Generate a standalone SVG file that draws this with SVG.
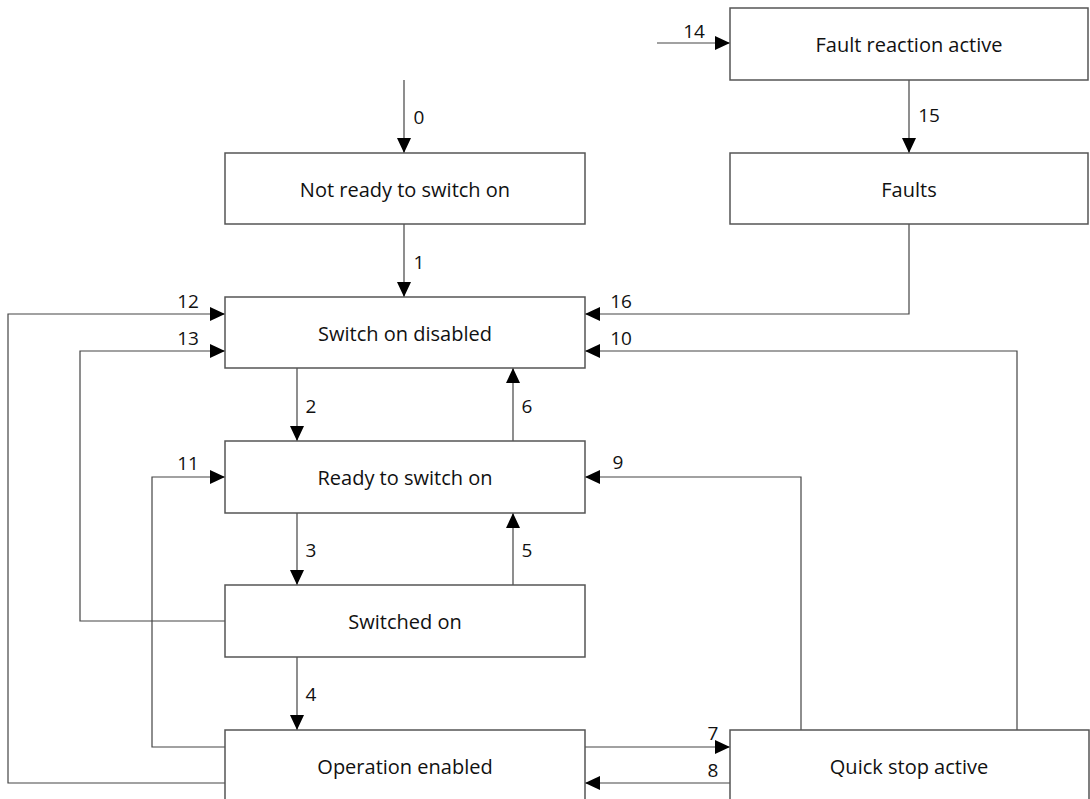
<svg xmlns="http://www.w3.org/2000/svg" width="1090" height="799" viewBox="0 0 1090 799">
<style>
.box{fill:#fff;stroke:#555;stroke-width:1.5}
.t{font-family:"Open Sans","Liberation Sans",sans-serif;font-size:20px;fill:#111;text-anchor:middle;dominant-baseline:central}
.n{font-family:"Open Sans","Liberation Sans",sans-serif;font-size:19px;fill:#111;text-anchor:middle}
.c{fill:none;stroke:#444;stroke-width:1.2}
</style>
<defs>
<marker id="ah" markerUnits="userSpaceOnUse" markerWidth="16" markerHeight="14" refX="15" refY="7" orient="auto" viewBox="0 0 16 14">
<path d="M0,0 L15,7 L0,14 z" fill="#000"/>
</marker>
</defs>
<rect width="1090" height="799" fill="#fff"/>
<g id="connectors">
<path class="c" d="M404,80 V153" marker-end="url(#ah)"/>
<path class="c" d="M404,224 V297" marker-end="url(#ah)"/>
<path class="c" d="M297,368 V441" marker-end="url(#ah)"/>
<path class="c" d="M297,513 V585" marker-end="url(#ah)"/>
<path class="c" d="M297,657 V730" marker-end="url(#ah)"/>
<path class="c" d="M513,585 V513" marker-end="url(#ah)"/>
<path class="c" d="M513,441 V368" marker-end="url(#ah)"/>
<path class="c" d="M585,747 H730" marker-end="url(#ah)"/>
<path class="c" d="M730,783 H585" marker-end="url(#ah)"/>
<path class="c" d="M801,730 V477 H585" marker-end="url(#ah)"/>
<path class="c" d="M1017,730 V351 H585" marker-end="url(#ah)"/>
<path class="c" d="M909,224 V314 H585" marker-end="url(#ah)"/>
<path class="c" d="M225,783 H8 V314 H225" marker-end="url(#ah)"/>
<path class="c" d="M225,621 H80 V351 H225" marker-end="url(#ah)"/>
<path class="c" d="M225,747 H152 V477 H225" marker-end="url(#ah)"/>
<path class="c" d="M657,43 H730" marker-end="url(#ah)"/>
<path class="c" d="M909,80 V153" marker-end="url(#ah)"/>
<text class="n" x="419" y="124">0</text>
<text class="n" x="419" y="269">1</text>
<text class="n" x="311" y="413">2</text>
<text class="n" x="311" y="557">3</text>
<text class="n" x="311" y="701">4</text>
<text class="n" x="527" y="557">5</text>
<text class="n" x="527" y="413">6</text>
<text class="n" x="713" y="740">7</text>
<text class="n" x="713" y="777">8</text>
<text class="n" x="618" y="469">9</text>
<text class="n" x="621" y="345">10</text>
<text class="n" x="188" y="470">11</text>
<text class="n" x="188" y="308">12</text>
<text class="n" x="188" y="345">13</text>
<text class="n" x="694" y="38">14</text>
<text class="n" x="929" y="122">15</text>
<text class="n" x="621" y="308">16</text>
</g>
<g id="fault-reaction-active"><rect class="box" x="730" y="8" width="358" height="72"/><text class="t" x="909" y="44">Fault reaction active</text></g>
<g id="faults"><rect class="box" x="730" y="153" width="358" height="71"/><text class="t" x="909" y="189">Faults</text></g>
<g id="not-ready"><rect class="box" x="225" y="153" width="360" height="71"/><text class="t" x="405" y="189">Not ready to switch on</text></g>
<g id="switch-on-disabled"><rect class="box" x="225" y="297" width="360" height="71"/><text class="t" x="405" y="333">Switch on disabled</text></g>
<g id="ready-to-switch-on"><rect class="box" x="225" y="441" width="360" height="72"/><text class="t" x="405" y="477">Ready to switch on</text></g>
<g id="switched-on"><rect class="box" x="225" y="585" width="360" height="72"/><text class="t" x="405" y="621">Switched on</text></g>
<g id="operation-enabled"><rect class="box" x="225" y="730" width="360" height="80"/><text class="t" x="405" y="766">Operation enabled</text></g>
<g id="quick-stop-active"><rect class="box" x="730" y="730" width="359" height="80"/><text class="t" x="909" y="766">Quick stop active</text></g>
</svg>
